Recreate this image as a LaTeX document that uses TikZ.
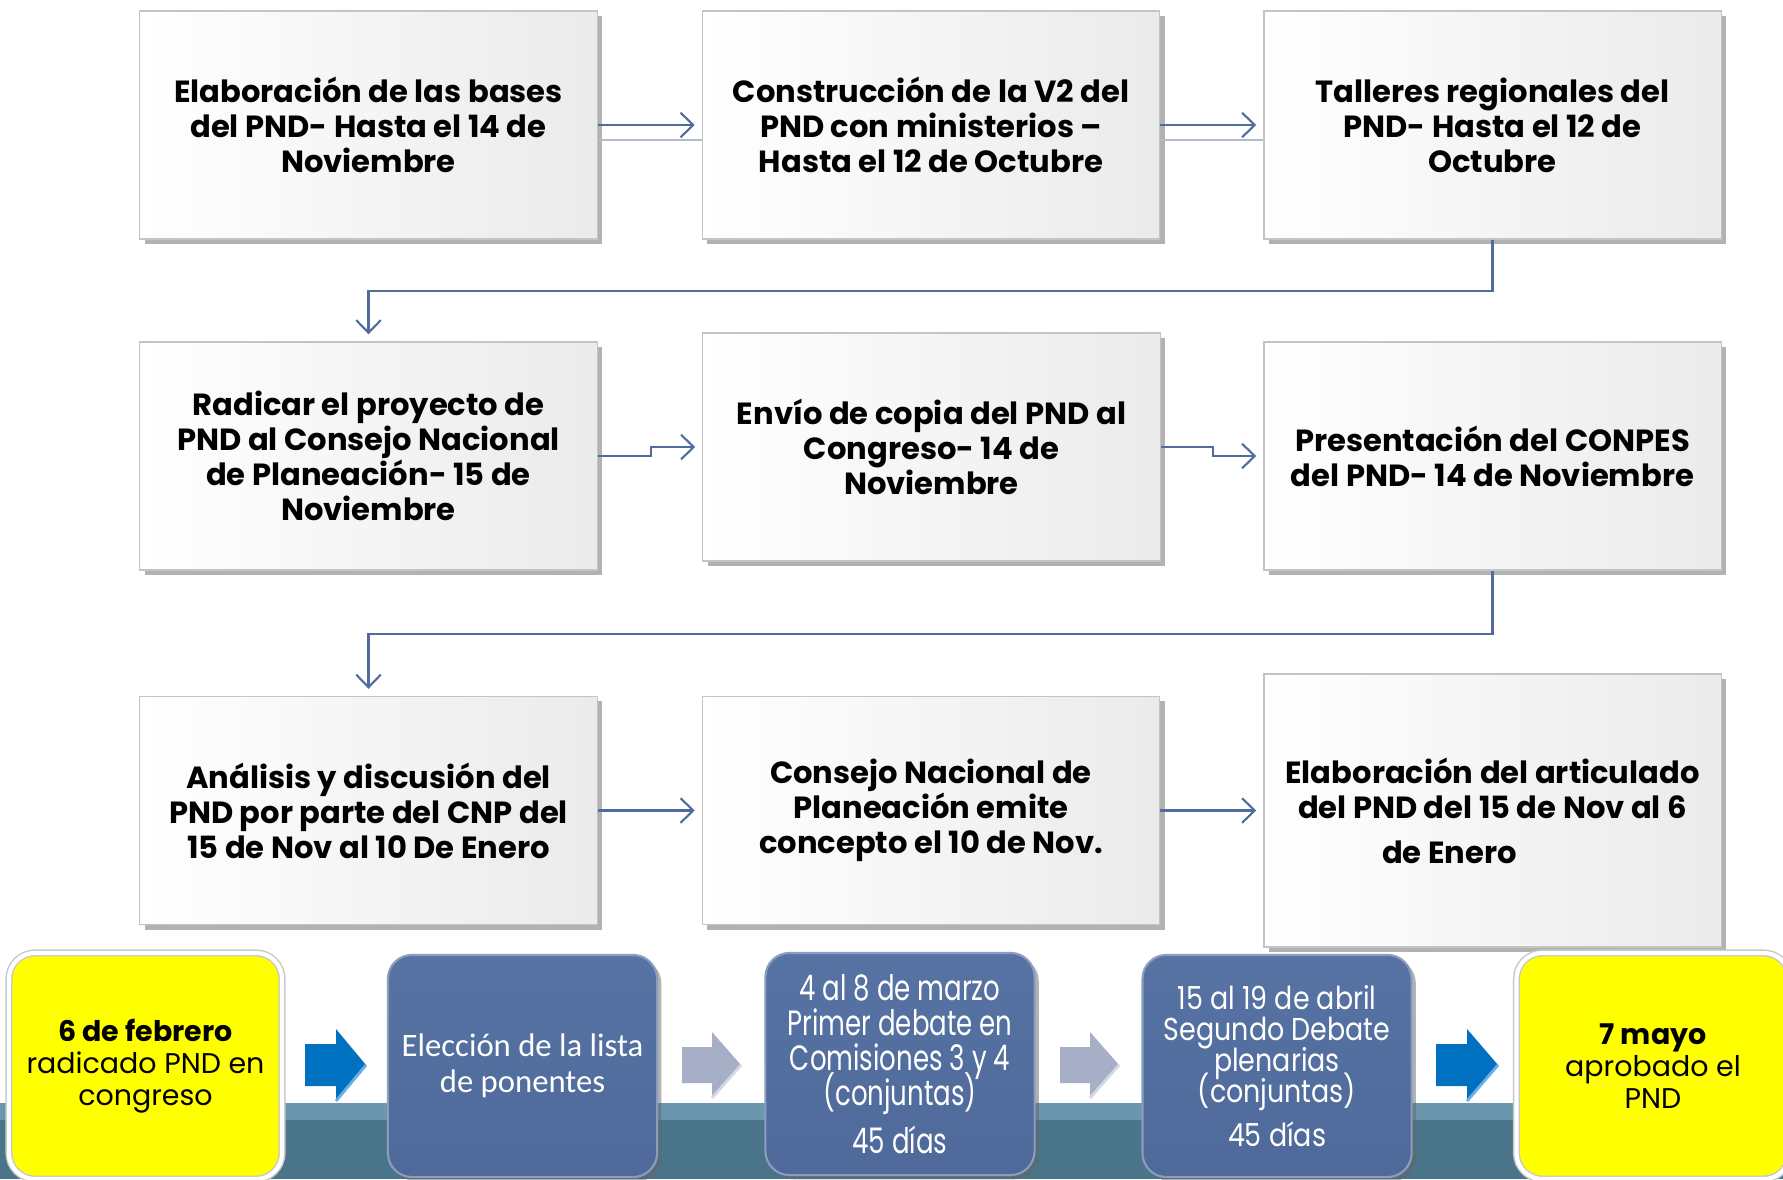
\documentclass[tikz,border=0pt]{standalone}
\usepackage{fontspec}
\setmainfont{Poppins}
\newfontfamily\calfont{Carlito}
\newfontfamily\condA{Poppins}[FakeStretch=0.74]
\newfontfamily\condB{Poppins}[FakeStretch=0.85]
\usetikzlibrary{arrows.meta,shadows}
\newcommand\tightls{\lineskiplimit -20pt\lineskip 0pt\relax}
\definecolor{linec}{HTML}{4F6C9C}
\definecolor{shlinec}{HTML}{B4BCCB}
\definecolor{boxline}{HTML}{C4C4C4}
\definecolor{bluebox}{HTML}{4F6A9A}
\definecolor{blueboxtop}{HTML}{5673A3}
\definecolor{blueedge}{HTML}{8C9CBE}
\definecolor{bandlight}{HTML}{6A97AE}
\definecolor{banddark}{HTML}{4A7489}
\definecolor{barrow}{HTML}{0070C0}
\definecolor{barrowhi}{HTML}{6AAEE6}
\definecolor{garrow}{HTML}{A7AFC7}
\definecolor{garrowhi}{HTML}{D3D8E6}
\definecolor{ybox}{HTML}{FFFF00}
\tikzset{
  box/.style={draw=boxline, line width=0.35pt, left color=white, right color=black!8,
    minimum width=4.57cm, minimum height=2.28cm, align=center, inner sep=0pt,
    font=\bfseries\fontsize{8.7}{9.96}\selectfont\tightls,
    drop shadow={shadow xshift=1.4pt, shadow yshift=-1.4pt, opacity=0.55, fill=black!55}},
  conn/.style={draw=linec, line width=0.6pt, shorten >=2pt,
    -{Straight Barb[length=3.6pt,width=7pt]}},
  shline/.style={draw=shlinec, line width=0.5pt},
  bbox/.style={draw=blueedge, line width=0.6pt, top color=blueboxtop, bottom color=bluebox,
    rounded corners=0.24cm, minimum width=2.69cm, minimum height=2.22cm, align=center,
    text=white, inner sep=0pt,
    drop shadow={shadow xshift=1.2pt, shadow yshift=-1.2pt, opacity=0.5, fill=black!60}},
  ybx/.style={draw=black!22, line width=0.4pt, fill=ybox, rounded corners=0.26cm,
    double=white, double distance=1.2pt,
    minimum width=2.73cm, minimum height=2.26cm, align=center, inner sep=0pt,
    font=\fontsize{8.1}{9.1}\selectfont\tightls},
  bluearrow/.style={fill=barrow},
  grayarrow/.style={fill=garrow},
}
\begin{document}
\begin{tikzpicture}[x=0.01cm,y=-0.01cm]
\useasboundingbox (0,0) rectangle (1783,1179);
\fill[white] (0,0) rectangle (1783,1179);

% bottom band
\fill[bandlight] (0,1103) rectangle (1783,1120);
\fill[banddark] (0,1120) rectangle (1783,1179);

% process boxes
\node[box] (b1) at (368.5,125) {Elaboración de las bases\\del PND- Hasta el 14 de\\Noviembre};
\node[box] (b2) at (931,125) {Construcción de la V2 del\\PND con ministerios –\\Hasta el 12 de Octubre};
\node[box] (b3) at (1492.5,125) {Talleres regionales del\\PND- Hasta el 12 de\\Octubre};
\node[box] (b4) at (368.5,456) {Radicar el proyecto de\\PND al Consejo Nacional\\de Planeación- 15 de\\Noviembre};
\node[box] (b5) at (931.5,447) {Envío de copia del PND al\\Congreso- 14 de\\Noviembre};
\node[box] (b6) at (1492.5,456) {Presentación del CONPES\\del PND- 14 de Noviembre};
\node[box] (b7) at (368.5,810.5) {Análisis y discusión del\\PND por parte del CNP del\\15 de Nov al 10 De Enero};
\node[box] (b8) at (931,810.5) {Consejo Nacional de\\Planeación emite\\concepto el 10 de Nov.};
\node[box, minimum height=2.73cm] (b9) at (1492.5,810.5) {Elaboración del articulado\\del PND del 15 de Nov al 6\\[0.1cm]de Enero\hspace*{0.86cm}};

% connectors
\draw[shline] ([yshift=-0.15cm]b1.east) -- ([yshift=-0.15cm]b2.west);
\draw[shline] ([yshift=-0.15cm]b2.east) -- ([yshift=-0.15cm]b3.west);
\draw[conn] (b1.east) -- (b2.west);
\draw[conn] (b2.east) -- (b3.west);
\draw[conn] (b3.south) -- ++(0,51) -| (b4.north);
\draw[conn] (b4.east) -- ++(53,0) |- (b5.west);
\draw[conn] (b5.east) -- ++(52,0) |- (b6.west);
\draw[conn] (b6.south) -- ++(0,63) -| (b7.north);
\draw[conn] (b7.east) -- (b8.west);
\draw[conn] (b8.east) -- (b9.west);

% bottom timeline
\node[ybx] (y1) at (145.5,1066) {{\bfseries 6 de febrero}\\radicado PND en\\congreso};
\node[bbox, font=\calfont\fontsize{9.3}{10.3}\selectfont\tightls] (t1) at (522.5,1066) {Elección de la lista\\de ponentes};
\node[bbox, font=\condA\fontsize{10}{10}\selectfont\tightls] (t2) at (900,1064) {4 al 8 de marzo\\Primer debate en\\Comisiones 3 y 4\\(conjuntas)\\[0.13cm]45 días};
\node[bbox, font=\condB\fontsize{9.0}{8.8}\selectfont\tightls] (t3) at (1277,1066) {15 al 19 de abril\\Segundo Debate\\plenarias\\(conjuntas)\\[0.13cm]45 días};
\node[ybx] (y2) at (1653,1066) {{\bfseries 7 mayo}\\aprobado el\\PND};

% block arrows
\path[bluearrow] (305,1044) -- (336,1044) -- (336,1029) -- (366,1065) -- (336,1101) -- (336,1086) -- (305,1086) -- cycle;
\draw[barrowhi, line width=0.8pt] (336,1101) -- (366,1065);
\path[grayarrow] (682,1047) -- (712,1047) -- (712,1032) -- (741,1065) -- (712,1098) -- (712,1083) -- (682,1083) -- cycle;
\draw[garrowhi, line width=0.8pt] (712,1098) -- (741,1065);
\path[grayarrow] (1060,1047) -- (1090,1047) -- (1090,1032) -- (1119,1065) -- (1090,1098) -- (1090,1083) -- (1060,1083) -- cycle;
\draw[garrowhi, line width=0.8pt] (1090,1098) -- (1119,1065);
\path[bluearrow] (1436,1044) -- (1467,1044) -- (1467,1029) -- (1498,1065) -- (1467,1101) -- (1467,1086) -- (1436,1086) -- cycle;
\draw[barrowhi, line width=0.8pt] (1467,1101) -- (1498,1065);
\end{tikzpicture}
\end{document}
